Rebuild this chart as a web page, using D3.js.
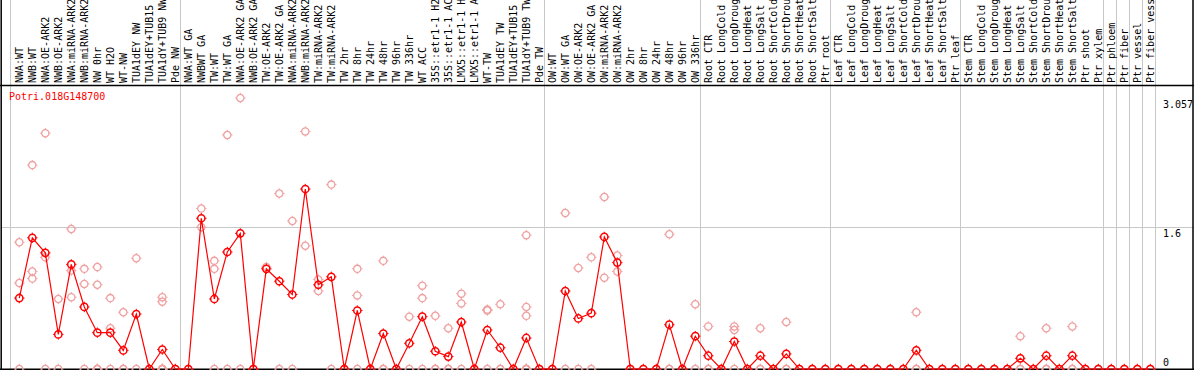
<!DOCTYPE html>
<html><head><meta charset="utf-8">
<script src="https://cdn.jsdelivr.net/npm/d3@7"></script>
<style>body{margin:0;background:#fff}svg{display:block}text{font-family:"DejaVu Sans Mono",monospace;font-size:10px}</style>
</head><body><svg id="c" width="1194" height="370"></svg>
<script>
const title = "Potri.018G148700";
const categories = [
 "NWA:WT","NWB:WT","NWA:OE-ARK2","NWB:OE-ARK2","NWA:miRNA-ARK2","NWB:miRNA-ARK2","NW 0hr","WT H2O","WT-NW","TUA1dEY NW","TUA1dEY+TUB15 NW","TUA1dY+TUB9 NW","Pde NW",
 "NWA:WT GA","NWBWT GA","TW:WT","TW:WT GA","NWA:OE-ARK2 GA","NWB:OE-ARK2 GA","TW:OE-ARK2","TW:OE-ARK2 GA","NWA:miRNA-ARK2","NWB:miRNA-ARK2","TW:miRNA-ARK2","TW:miRNA-ARK2","TW 2hr","TW 8hr","TW 24hr","TW 48hr","TW 96hr","TW 336hr","WT ACC","35S::etr1-1 H2O","35S::etr1-1 ACC","LMX5::etr1-1 H2O","LMX5::etr1-1 ACC","WT-TW","TUA1dEY TW","TUA1dEY+TUB15 TW","TUA1dY+TUB9 TW","Pde TW",
 "OW:WT","OW:WT GA","OW:OE-ARK2","OW:OE-ARK2 GA","OW:miRNA-ARK2","OW:miRNA-ARK2","OW 2hr","OW 8hr","OW 24hr","OW 48hr","OW 96hr","OW 336hr",
 "Root CTR","Root LongCold","Root LongDrought","Root LongHeat","Root LongSalt","Root ShortCold","Root ShortDrought","Root ShortHeat","Root ShortSalt","Ptr root",
 "Leaf CTR","Leaf LongCold","Leaf LongDrought","Leaf LongHeat","Leaf LongSalt","Leaf ShortCold","Leaf ShortDrought","Leaf ShortHeat","Leaf ShortSalt","Ptr leaf",
 "Stem CTR","Stem LongCold","Stem LongDrought","Stem LongHeat","Stem LongSalt","Stem ShortCold","Stem ShortDrought","Stem ShortHeat","Stem ShortSalt","Ptr shoot","Ptr xylem",
 "Ptr phloem","Ptr fiber","Ptr vessel","Ptr fiber vessel"
];
// index of last category in each group
const groupEnds = [12, 40, 52, 62, 72, 83, 84, 85, 86, 87];
const means = [
 0.80,1.48,1.31,0.39,1.18,0.70,0.41,0.41,0.21,0.62,0,0.22,0,
 0,1.70,0.79,1.32,1.53,0,1.13,0.99,0.84,2.03,0.95,1.04,0,0.66,0,0.40,0,0.29,0.59,0.20,0.14,0.53,0,0.44,0.24,0,0.35,0,
 0,0.88,0.57,0.63,1.49,1.20,0,0,0,0.50,0,0.37,
 0.15,0,0.31,0,0.15,0,0.17,0,0,0,
 0,0,0,0,0,0,0.21,0,0,0,
 0,0,0,0,0.12,0,0.15,0,0.15,0,0,
 0,0,0,0
];
const replicates = [
 [1.43,0.97,0],[2.30,1.10,1.02],[2.66,1.26,0],[0.79,0],[1.58,1.11,0.81],[1.13,0.96,0],[1.15,0.95,0,0,0],[0.80,0.46,0],[0.64,0,0],[1.25,0],[0],[0.81,0.76,0,0,0,0,0],[0],
 [0],[1.81,1.60],[1.22,1.13,0],[2.64,0],[3.057,0],[0],[1.15],[1.98,0],[1.67,0],[2.68,1.39],[1.01,0.88],[2.08,0],[0],[1.13,0.83,0],[0],[1.22,0,0],[0],[0.59,0],[0.94,0.80,0],[0.60,0,0],[0.46,0,0],[0.85,0.74,0],[0],[0.67,0.66,0],[0.73,0,0],[0],[1.51,0.70,0.60,0,0,0,0,0],[0],
 [0],[1.76,0],[1.14,0],[1.26,0],[1.94,1.03],[1.28,1.10],[0],[0],[0],[1.52,0,0],[0],[0.73,0],
 [0.48,0,0],[0],[0.48,0.44,0],[0],[0.46,0,0],[0],[0.53,0,0],[0],[0],[0],
 [0],[0],[0],[0],[0],[0],[0.64,0,0],[0],[0],[0],
 [0],[0],[0],[0],[0.37,0,0],[0],[0.46,0,0],[0],[0.48,0,0],[0],[0],
 [0],[0],[0],[0]
];
const yTicks = [0, 1.6, 3.057];
const yTickLabels = ["0", "1.6", "3.057"];

const svg = d3.select("#c");
const W = 1194, H = 370;
const x = d3.scaleLinear().domain([0, categories.length - 1]).range([19.3, 1150.3]);
const y = d3.scaleLinear().domain([0, 3.057]).range([369, 98]);
const red = "#ff0000", pale = "#f0a0a0", grid = "#c8c8c8";
const headerY = 85.5, plotRight = x(categories.length - 1) + 5;

// grid lines (vertical, full height)
const vlines = [x(0) - 9].concat(groupEnds.map(i => x(i) + 5));
svg.append("g").selectAll("line").data(vlines).join("line")
  .attr("x1", d => Math.round(d) + 0.5).attr("x2", d => Math.round(d) + 0.5)
  .attr("y1", 0).attr("y2", H).attr("stroke", grid).attr("stroke-width", 1);
// horizontal grid at 1.6
svg.append("line").attr("x1", 1).attr("x2", W).attr("y1", Math.round(y(1.6)) + 0.5).attr("y2", Math.round(y(1.6)) + 0.5)
  .attr("stroke", grid);

// frame
svg.append("line").attr("x1", 0).attr("x2", W).attr("y1", headerY).attr("y2", headerY).attr("stroke", "#000").attr("stroke-width", 1.5);
svg.append("line").attr("x1", 0).attr("x2", W).attr("y1", H - 0.8).attr("y2", H - 0.8).attr("stroke", "#000").attr("stroke-width", 1.5);
svg.append("line").attr("x1", 1.2).attr("x2", 1.2).attr("y1", 0).attr("y2", H).attr("stroke", "#000").attr("stroke-width", 1.5);
svg.append("line").attr("x1", W - 1).attr("x2", W - 1).attr("y1", 0).attr("y2", H).attr("stroke", "#000").attr("stroke-width", 1.5);

// category labels
svg.append("g").selectAll("text").data(categories).join("text")
  .attr("transform", (d, i) => `translate(${x(i) + 3.6},83) rotate(-90)`)
  .attr("fill", "#000").text(d => d);

// right axis labels
const yl = svg.append("g");
yTicks.forEach((t, k) => {
  const yy = y(t);
  const base = t === 0 ? yy - 3 : yy + 10;
  yl.append("text").attr("x", 1163).attr("y", base).attr("fill", "#000").text(yTickLabels[k]);
});

// title
svg.append("text").attr("x", 9).attr("y", 100).attr("fill", red).text(title);

function marker(g, color, sw) {
  g.append("circle").attr("r", 3.6).attr("fill", "none").attr("stroke", color).attr("stroke-width", sw);
  g.append("path").attr("d", "M0,-5.2V-3.8M0,3.8V5.2M-5.2,0H-3.8M3.8,0H5.2").attr("stroke", color).attr("stroke-width", 1);
}

// replicate points
const repPts = [];
replicates.forEach((arr, i) => arr.forEach(v => repPts.push([i, v])));
svg.append("g").selectAll("g").data(repPts).join("g")
  .attr("transform", d => `translate(${x(d[0])},${y(d[1])})`)
  .each(function () { marker(d3.select(this), pale, 1.3); });

// mean line
svg.append("path").datum(means)
  .attr("d", d3.line().x((d, i) => x(i)).y(d => y(d)))
  .attr("fill", "none").attr("stroke", red).attr("stroke-width", 1.2);

svg.append("g").selectAll("g").data(means).join("g")
  .attr("transform", (d, i) => `translate(${x(i)},${y(d)})`)
  .each(function () { marker(d3.select(this), red, 1.5); });
</script></body></html>
